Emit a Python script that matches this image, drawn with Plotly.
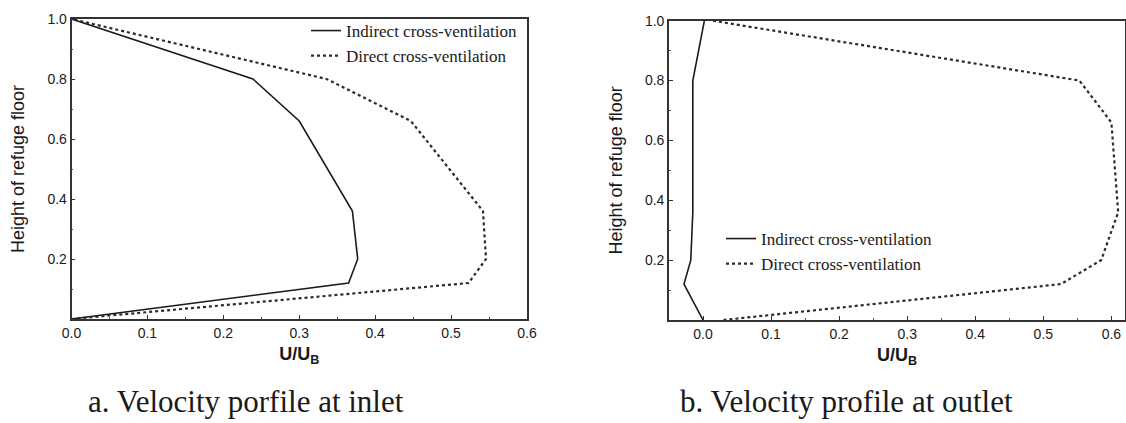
import plotly.graph_objects as go

# ---- data ----
height = [0.0, 0.12, 0.20, 0.36, 0.66, 0.80, 1.0]

inlet_indirect = [0.0, 0.365, 0.377, 0.370, 0.300, 0.239, 0.0]
inlet_direct = [0.0, 0.523, 0.546, 0.542, 0.447, 0.336, 0.0]

outlet_indirect = [0.0, -0.028, -0.018, -0.015, -0.015, -0.015, 0.002]
outlet_direct = [0.03, 0.526, 0.585, 0.610, 0.600, 0.553, 0.014]

series_names = ["Indirect cross-ventilation", "Direct cross-ventilation"]
x_ticks_a = [0.0, 0.1, 0.2, 0.3, 0.4, 0.5, 0.6]
x_ticks_b = [0.0, 0.1, 0.2, 0.3, 0.4, 0.5, 0.6]
y_ticks = [0.2, 0.4, 0.6, 0.8, 1.0]
captions = ["a. Velocity porfile at inlet", "b. Velocity profile at outlet"]

W, H = 1126, 423
INK = "#1a1a1a"
SANS = "Liberation Sans, Arial, sans-serif"
SERIF = "Liberation Serif, Times New Roman, serif"

fig = go.Figure()

solid = dict(color=INK, width=1.6)
dotted = dict(color="#2a2a2a", width=2.2, dash="3px,3px")

fig.add_trace(go.Scatter(x=inlet_indirect, y=height, mode="lines", line=solid,
                         name=series_names[0], xaxis="x", yaxis="y", legend="legend"))
fig.add_trace(go.Scatter(x=inlet_direct, y=height, mode="lines", line=dotted,
                         name=series_names[1], xaxis="x", yaxis="y", legend="legend"))
fig.add_trace(go.Scatter(x=outlet_indirect, y=height, mode="lines", line=solid,
                         name=series_names[0], xaxis="x2", yaxis="y2", legend="legend2"))
fig.add_trace(go.Scatter(x=outlet_direct, y=height, mode="lines", line=dotted,
                         name=series_names[1], xaxis="x2", yaxis="y2", legend="legend2"))

def px(v, total):
    return v / total

def minor(**kw):
    d = dict(ticks="inside", ticklen=2, tickwidth=1, tickcolor="#555")
    d.update(kw)
    return d

axis_common = dict(
    showgrid=False, zeroline=False, showline=True, mirror=True,
    linecolor="#333", linewidth=1.6, automargin=False,
    ticks="inside", ticklen=4, tickwidth=1.2, tickcolor="#333",
    tickfont=dict(family=SANS, size=14, color=INK),
    tickformat=".1f",
)
xtitle = dict(text="<b>U/U<sub>B</sub></b>", font=dict(family=SANS, size=18, color=INK), standoff=8)
ytitle = dict(text="Height of refuge floor", font=dict(family=SANS, size=18, color=INK), standoff=18)

fig.update_layout(
    width=W, height=H,
    margin=dict(l=0, r=0, t=0, b=0, autoexpand=False),
    paper_bgcolor="white", plot_bgcolor="white",
    xaxis=dict(domain=[px(71.5, W), px(527, W)], range=[0, 0.6], anchor="y",
               tickvals=x_ticks_a, title=xtitle, minor=minor(dtick=0.05), **axis_common),
    yaxis=dict(domain=[1 - px(319, H), 1 - px(19, H)], range=[0, 1.0], anchor="x",
               tickvals=y_ticks, title=ytitle, minor=minor(tickvals=[0.1, 0.3, 0.5, 0.7, 0.9]), **axis_common),
    xaxis2=dict(domain=[px(669, W), px(1125, W)], range=[-0.05, 0.62], anchor="y2",
                tickvals=x_ticks_b, title=xtitle,
                minor=minor(tickvals=[0.05, 0.15, 0.25, 0.35, 0.45, 0.55]), **axis_common),
    yaxis2=dict(domain=[1 - px(320, H), 1 - px(20.7, H)], range=[0, 1.0], anchor="x2",
                tickvals=y_ticks, title=ytitle, minor=minor(tickvals=[0.1, 0.3, 0.5, 0.7, 0.9]), **axis_common),
    legend=dict(x=px(522, W), y=1 - px(13, H), xanchor="right", yanchor="top",
                bgcolor="rgba(0,0,0,0)", font=dict(family=SERIF, size=17, color=INK),
                tracegroupgap=0, itemwidth=30),
    legend2=dict(x=px(721, W), y=1 - px(221, H), xanchor="left", yanchor="top",
                 bgcolor="rgba(0,0,0,0)", font=dict(family=SERIF, size=17, color=INK),
                 tracegroupgap=0, itemwidth=30),
    showlegend=True,
)

fig.add_annotation(text=captions[0], xref="paper", yref="paper", x=px(246, W), y=1 - px(401, H),
                   xanchor="center", yanchor="middle", showarrow=False,
                   font=dict(family=SERIF, size=31, color=INK))
fig.add_annotation(text=captions[1], xref="paper", yref="paper", x=px(846, W), y=1 - px(401, H),
                   xanchor="center", yanchor="middle", showarrow=False,
                   font=dict(family=SERIF, size=31, color=INK))

fig.write_html("out.html",
               config={"displayModeBar": False},
               post_script="document.body.style.margin='0';document.body.style.overflow='hidden';")
